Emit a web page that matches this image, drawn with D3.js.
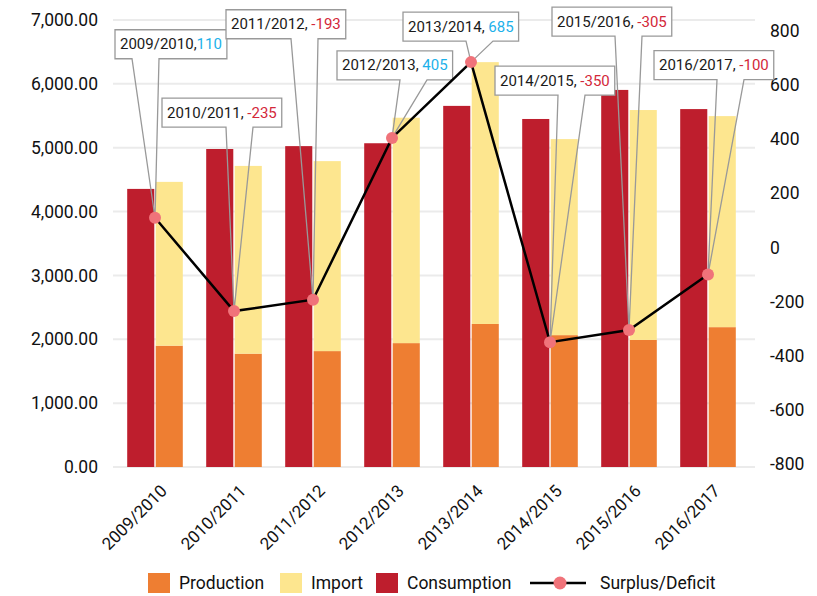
<!DOCTYPE html>
<html>
<head>
<meta charset="utf-8">
<script src="https://cdn.jsdelivr.net/npm/d3@7"></script>
<style>
  body { margin: 0; background: #fff; }
  svg { display: block; font-family: Roboto, "Noto Sans", sans-serif; }
</style>
</head>
<body>
<div id="chart"></div>
<script>
const width = 817,
      height = 596;

// values
const categories = ['2009/2010', '2010/2011', '2011/2012', '2012/2013', '2013/2014', '2014/2015', '2015/2016', '2016/2017'];
const production = [1900, 1775, 1815, 1940, 2240, 2065, 1990, 2190];
const importVals = [2565, 2940, 2975, 3530, 4100, 3070, 3600, 3305];
const consumption = [4355, 4980, 5025, 5070, 5655, 5450, 5905, 5605];
const surplus = [110, -235, -193, 405, 685, -350, -305, -100];
const calloutSep = [',', ', ', ', ', ', ', ', ', ', ', ', ', ', '];
const leftTicks = [0, 1000, 2000, 3000, 4000, 5000, 6000, 7000];
const rightTicks = [-800, -600, -400, -200, 0, 200, 400, 600, 800];
const legendNames = ['Production', 'Import', 'Consumption', 'Surplus/Deficit'];

// callout placement: box offset from the point, pointer base offset in the box
const calloutLayout = [
  { dx: -40, dy: -188, base: 17 },
  { dx: -72, dy: -213, base: 64 },
  { dx: -87, dy: -290, base: 65 },
  { dx: -55, dy: -87, base: 63 },
  { dx: -68, dy: -50, base: 63 },
  { dx: -55, dy: -276, base: 63 },
  { dx: -77, dy: -323, base: 63 },
  { dx: -54, dy: -224, base: 63 }
];
const legendX = [148, 280, 376, 530];

const colors = {
  production: '#ee7e32',
  import: '#fde68f',
  consumption: '#be1e2d',
  marker: '#f0737a',
  pos: '#1cb1ea',
  neg: '#d3283a'
};

const rows = categories.map((c, i) => ({
  category: c,
  production: production[i],
  import: importVals[i],
  consumption: consumption[i],
  surplus: surplus[i]
}));

const svg = d3.select('#chart').append('svg')
    .attr('width', width)
    .attr('height', height);

const x = d3.scaleBand()
    .domain(categories)
    .range([115.5, 747.5]);
const xSub = d3.scaleBand()
    .domain(['consumption', 'supply'])
    .range([-27.8, 27.8])
    .paddingInner(0.05);
const yL = d3.scaleLinear().domain([0, 7000]).range([467, 20]);
const yR = d3.scaleLinear().domain([-800, 800]).range([464, 31]);
const cx = d => x(d) + x.bandwidth() / 2;

// grid
svg.append('g')
  .selectAll('line')
  .data(leftTicks)
  .join('line')
    .attr('x1', 113)
    .attr('x2', 755)
    .attr('y1', d => yL(d))
    .attr('y2', d => yL(d))
    .attr('stroke', '#ebebeb')
    .attr('stroke-width', 2);

// axes
const leftAxis = svg.append('g')
    .attr('transform', 'translate(98,0)')
    .call(d3.axisLeft(yL).tickValues(leftTicks).tickFormat(d3.format(',.2f')).tickSize(0).tickPadding(0));
const rightAxis = svg.append('g')
    .attr('transform', 'translate(770,0)')
    .call(d3.axisRight(yR).tickValues(rightTicks).tickFormat(d => String(d)).tickSize(0).tickPadding(0));
const bottomAxis = svg.append('g')
    .attr('transform', 'translate(0,467)')
    .call(d3.axisBottom(x).tickSize(0));

[leftAxis, rightAxis, bottomAxis].forEach(g => {
  g.select('.domain').remove();
  g.selectAll('text')
    .attr('fill', '#111')
    .style('font-family', 'Roboto, sans-serif')
    .style('font-size', '17.5px');
});
bottomAxis.selectAll('text')
    .style('font-size', '17px')
    .attr('text-anchor', 'end')
    .attr('y', 0)
    .attr('dy', 0)
    .attr('transform', 'translate(13,25) rotate(-45)');

// bars
svg.append('g')
  .selectAll('rect')
  .data(rows)
  .join('rect')
    .attr('x', d => cx(d.category) + xSub('consumption'))
    .attr('y', d => yL(d.consumption))
    .attr('width', xSub.bandwidth())
    .attr('height', d => yL(0) - yL(d.consumption))
    .attr('fill', colors.consumption);

const stacked = d3.stack().keys(['production', 'import'])(rows);
svg.append('g')
  .selectAll('g')
  .data(stacked)
  .join('g')
    .attr('fill', d => colors[d.key])
  .selectAll('rect')
  .data(d => d)
  .join('rect')
    .attr('x', d => cx(d.data.category) + xSub('supply'))
    .attr('y', d => yL(d[1]))
    .attr('width', xSub.bandwidth())
    .attr('height', d => yL(d[0]) - yL(d[1]));

// callouts
const boxH = 29, pointerW = 27;
const callouts = svg.append('g')
  .selectAll('g')
  .data(rows)
  .join('g');

callouts.each(function(d, i) {
  const g = d3.select(this);
  const px = cx(d.category), py = yR(d.surplus);
  const lay = calloutLayout[i];
  const left = px + lay.dx, top = py + lay.dy;

  const rect = g.append('rect');
  const text = g.append('text')
      .attr('x', left + 5)
      .attr('y', top + 19.5)
      .style('font-size', '15px')
      .attr('fill', '#1a1a1a');
  text.append('tspan').text(d.category + calloutSep[i]);
  text.append('tspan')
      .attr('fill', d.surplus >= 0 ? colors.pos : colors.neg)
      .text(d.surplus);
  const w = text.node().getComputedTextLength() + 10;

  rect.attr('x', left).attr('y', top)
      .attr('width', w).attr('height', boxH)
      .attr('fill', '#fff');

  const b = top + boxH, p1 = left + lay.base, p2 = p1 + pointerW;
  g.insert('path', 'text')
      .attr('d', `M${p1},${b}H${left}V${top}H${left + w}V${b}H${p2}L${px},${py}Z`)
      .attr('fill', 'none')
      .attr('stroke', '#999')
      .attr('stroke-width', 1.3);
});

// surplus line
const line = d3.line()
    .x(d => cx(d.category))
    .y(d => yR(d.surplus));

svg.append('path')
    .datum(rows)
    .attr('d', line)
    .attr('fill', 'none')
    .attr('stroke', '#000')
    .attr('stroke-width', 2.5);

svg.append('g')
  .selectAll('circle')
  .data(rows)
  .join('circle')
    .attr('cx', d => cx(d.category))
    .attr('cy', d => yR(d.surplus))
    .attr('r', 6)
    .attr('fill', colors.marker);

// legend
const legendY = 583;
const legend = svg.append('g')
  .selectAll('g')
  .data(legendNames)
  .join('g')
    .attr('transform', (d, i) => `translate(${legendX[i]},${legendY})`);

legend.each(function(d, i) {
  const g = d3.select(this);
  let textX = 31;
  if (i < 3) {
    g.append('rect')
        .attr('x', 0).attr('y', -10)
        .attr('width', 22).attr('height', 20)
        .attr('fill', [colors.production, colors.import, colors.consumption][i]);
  } else {
    g.append('line')
        .attr('x1', 0).attr('x2', 56)
        .attr('stroke', '#000').attr('stroke-width', 2.5);
    g.append('circle')
        .attr('cx', 30).attr('r', 6.5)
        .attr('fill', colors.marker);
    textX = 70;
  }
  g.append('text')
      .attr('x', textX)
      .attr('dy', '0.35em')
      .style('font-size', '17.5px')
      .attr('fill', '#111')
      .text(d);
});
</script>
</body>
</html>
